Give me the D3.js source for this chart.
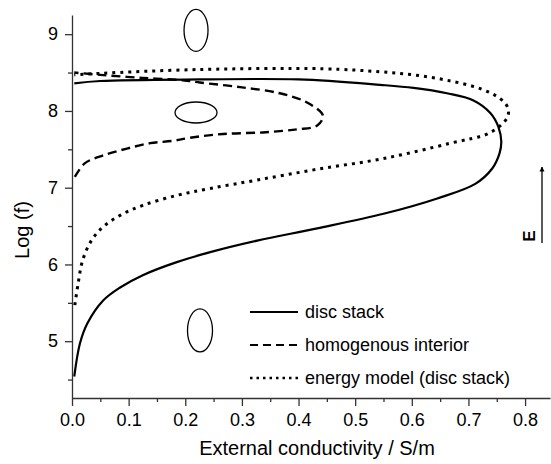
<!DOCTYPE html>
<html>
<head>
<meta charset="utf-8">
<script src="https://cdn.jsdelivr.net/npm/d3@7/dist/d3.min.js"></script>
<style>
  body { margin: 0; background: #fff; }
  svg { display: block; font-family: "Liberation Sans", Arial, sans-serif; }
  .axis path, .axis line { stroke: #333; stroke-width: 1.3; }
  .axis text { font-size: 18px; fill: #000; }
</style>
</head>
<body>
<svg id="chart" width="551" height="464"></svg>
<script>
// disc stack (solid)
const discX = [0.004, 0.014, 0.027, 0.055, 0.085, 0.125, 0.185, 0.244, 0.327, 0.433, 0.55, 0.645, 0.712, 0.742, 0.755, 0.758, 0.753, 0.739, 0.708, 0.662, 0.603, 0.544, 0.40, 0.226, 0.05, 0.004];
const discY = [4.54, 4.97, 5.23, 5.53, 5.70, 5.86, 6.03, 6.16, 6.31, 6.47, 6.66, 6.86, 7.05, 7.25, 7.45, 7.60, 7.79, 7.97, 8.14, 8.23, 8.30, 8.34, 8.41, 8.41, 8.39, 8.36];

// homogenous interior (dashed)
const homX = [0.005, 0.023, 0.055, 0.097, 0.138, 0.178, 0.208, 0.267, 0.337, 0.397, 0.433, 0.443, 0.415, 0.367, 0.297, 0.226, 0.196, 0.125, 0.05, 0.004];
const homY = [7.14, 7.32, 7.42, 7.51, 7.58, 7.61, 7.65, 7.70, 7.72, 7.76, 7.81, 7.94, 8.11, 8.23, 8.31, 8.37, 8.40, 8.43, 8.47, 8.50];

// energy model (disc stack) (dotted)
const enX = [0.005, 0.011, 0.019, 0.035, 0.055, 0.085, 0.125, 0.185, 0.244, 0.327, 0.433, 0.55, 0.668, 0.739, 0.769, 0.769, 0.756, 0.721, 0.662, 0.603, 0.544, 0.443, 0.226, 0.05, 0.004];
const enY = [5.47, 5.76, 6.06, 6.32, 6.49, 6.64, 6.77, 6.90, 6.99, 7.10, 7.24, 7.38, 7.58, 7.72, 7.92, 8.05, 8.16, 8.29, 8.40, 8.47, 8.51, 8.55, 8.54, 8.49, 8.47];

const xTicks = [0, 0.1, 0.2, 0.3, 0.4, 0.5, 0.6, 0.7, 0.8];
const xMinor = [0.05, 0.15, 0.25, 0.35, 0.45, 0.55, 0.65, 0.75];
const yTicks = [5, 6, 7, 8, 9];
const yMinor = [4.5, 5.5, 6.5, 7.5, 8.5];

const legendLabels = ["disc stack", "homogenous interior", "energy model (disc stack)"];

// particle shape sketches: [x, y] in data units
const shapeCentres = [[0.219, 9.05], [0.219, 7.98], [0.226, 5.14]];

const svg = d3.select("#chart");
const x = d3.scaleLinear().domain([0, 0.844]).range([72, 550]);
const y = d3.scaleLinear().domain([4.26, 9.25]).range([398, 15]);

// axes
const gx = svg.append("g").attr("class", "axis").attr("transform", "translate(0,398)");
gx.call(d3.axisBottom(x).tickValues(xTicks).tickFormat(d3.format(".1f")).tickSize(8).tickPadding(7).tickSizeOuter(0));
gx.append("g").call(d3.axisBottom(x).tickValues(xMinor).tickFormat("").tickSize(4))
  .select(".domain").remove();

const gy = svg.append("g").attr("class", "axis").attr("transform", "translate(72,0)");
gy.call(d3.axisLeft(y).tickValues(yTicks).tickFormat(d3.format("d")).tickSize(7).tickPadding(7).tickSizeOuter(0));
gy.append("g").call(d3.axisLeft(y).tickValues(yMinor).tickFormat("").tickSize(4))
  .select(".domain").remove();

svg.append("text")
  .attr("x", 317).attr("y", 455)
  .attr("text-anchor", "middle")
  .style("font-size", "20px")
  .text("External conductivity / S/m");

svg.append("text")
  .attr("transform", "translate(29,230) rotate(-90)")
  .attr("text-anchor", "middle")
  .style("font-size", "20px")
  .text("Log (f)");

// curves
const line = d3.line()
  .x(d => x(d[0])).y(d => y(d[1]))
  .curve(d3.curveCatmullRom.alpha(0.5));

const series = [
  { pts: d3.zip(discX, discY), dash: null, w: 2.2 },
  { pts: d3.zip(homX, homY), dash: "9 5", w: 2.4 },
  { pts: d3.zip(enX, enY), dash: "3 5", w: 3 }
];

svg.selectAll(".curve").data(series).enter()
  .append("path")
  .attr("class", "curve")
  .attr("d", d => line(d.pts))
  .attr("fill", "none")
  .attr("stroke", "#000")
  .attr("stroke-width", d => d.w)
  .attr("stroke-dasharray", d => d.dash);

// shape sketches
const radii = [[12, 21], [21, 10.5], [12.5, 21.5]];
svg.selectAll(".shape").data(shapeCentres).enter()
  .append("ellipse")
  .attr("cx", d => x(d[0])).attr("cy", d => y(d[1]))
  .attr("rx", (d, i) => radii[i][0]).attr("ry", (d, i) => radii[i][1])
  .attr("fill", "none").attr("stroke", "#000").attr("stroke-width", 1.3);

// legend
const legend = svg.append("g");
const legendDash = [null, "8 5", "2.5 4"];
legendLabels.forEach((t, i) => {
  const ly = 312 + i * 33;
  legend.append("line")
    .attr("x1", 250).attr("x2", 298).attr("y1", ly).attr("y2", ly)
    .attr("stroke", "#000").attr("stroke-width", i === 2 ? 2.6 : 2.2)
    .attr("stroke-dasharray", legendDash[i]);
  legend.append("text")
    .attr("x", 305).attr("y", ly + 6)
    .style("font-size", "18px")
    .text(t);
});

// field direction arrow
svg.append("defs").append("marker")
  .attr("id", "ah").attr("viewBox", "0 0 10 10")
  .attr("refX", 9).attr("refY", 5)
  .attr("markerWidth", 5).attr("markerHeight", 8)
  .attr("markerUnits", "userSpaceOnUse")
  .attr("orient", "auto")
  .append("path").attr("d", "M0,0 L10,5 L0,10 Z").attr("fill", "#000");

svg.append("line")
  .attr("x1", 542).attr("x2", 542).attr("y1", 243).attr("y2", 167)
  .attr("stroke", "#000").attr("stroke-width", 1.3)
  .attr("marker-end", "url(#ah)");

svg.append("text")
  .attr("transform", "translate(535,236) rotate(-90)")
  .attr("text-anchor", "middle")
  .style("font-size", "17px").style("font-weight", "bold")
  .text("E");
</script>
</body>
</html>
